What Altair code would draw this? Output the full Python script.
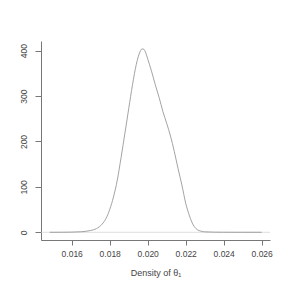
import altair as alt
import pandas as pd

theta = [0.01484, 0.0155, 0.0160, 0.0165, 0.0170, 0.0173, 0.0176, 0.0178, 0.0180,
         0.0182, 0.0184, 0.0186, 0.0188, 0.0190, 0.0192, 0.0194, 0.0196, 0.0197,
         0.0198, 0.0199, 0.0200, 0.0202, 0.0204, 0.0206, 0.0208, 0.0210, 0.0212,
         0.0214, 0.0216, 0.0218, 0.0220, 0.0222, 0.0224, 0.0226, 0.0228, 0.0230,
         0.0235, 0.0240, 0.0250, 0.0260]
density = [0, 0.1, 0.4, 1.2, 4, 8, 18, 30, 50,
           78, 115, 165, 218, 272, 325, 370, 398, 404,
           403, 395, 382, 355, 325, 297, 266, 240, 212,
           178, 140, 104, 64, 36, 16, 6, 2.5, 1,
           0.3, 0.1, 0, 0]
x_ticks = [0.016, 0.018, 0.020, 0.022, 0.024, 0.026]
y_ticks = [0, 100, 200, 300, 400]

df = pd.DataFrame({"theta": theta, "density": density})

FONT = "Liberation Sans"
xscale = alt.Scale(domain=[0.014384, 0.026437], nice=False, zero=False)
yscale = alt.Scale(domain=[-17, 421.4], nice=False, zero=False)

xaxis = alt.Axis(values=x_ticks, format=".3f", title="Density of θ₁", grid=False,
                 domainColor="#777", tickColor="#777", tickSize=5, labelPadding=4,
                 labelFont=FONT, labelFontSize=8.5, labelColor="#444",
                 titleFont=FONT, titleFontSize=9, titleFontWeight="normal", titleColor="#444",
                 titleY=35, titleBaseline="alphabetic")
yaxis = alt.Axis(values=y_ticks, title=None, grid=False,
                 domainColor="#777", tickColor="#777", tickSize=6, labelPadding=7,
                 labelAngle=270, labelAlign="center", labelBaseline="bottom",
                 labelFont=FONT, labelFontSize=8.5, labelColor="#444")

zero = alt.Chart(pd.DataFrame({"z": [0]})).mark_rule(color="#d0d0d0", strokeWidth=0.7).encode(
    y=alt.Y("z:Q", scale=yscale, axis=yaxis)
)
line = alt.Chart(df).mark_line(color="#999999", strokeWidth=0.9, interpolate="monotone").encode(
    x=alt.X("theta:Q", scale=xscale, axis=xaxis),
    y=alt.Y("density:Q", scale=yscale, axis=yaxis),
)

chart = alt.layer(zero, line).properties(
    width=229, height=199,
    autosize=alt.AutoSizeParams(type="none"),
    padding={"left": 33, "top": 33, "right": 13, "bottom": 43},
).configure(background="white", view=alt.ViewConfig(stroke=None))

chart.save("out.html", embed_options={"renderer": "svg", "actions": False})
